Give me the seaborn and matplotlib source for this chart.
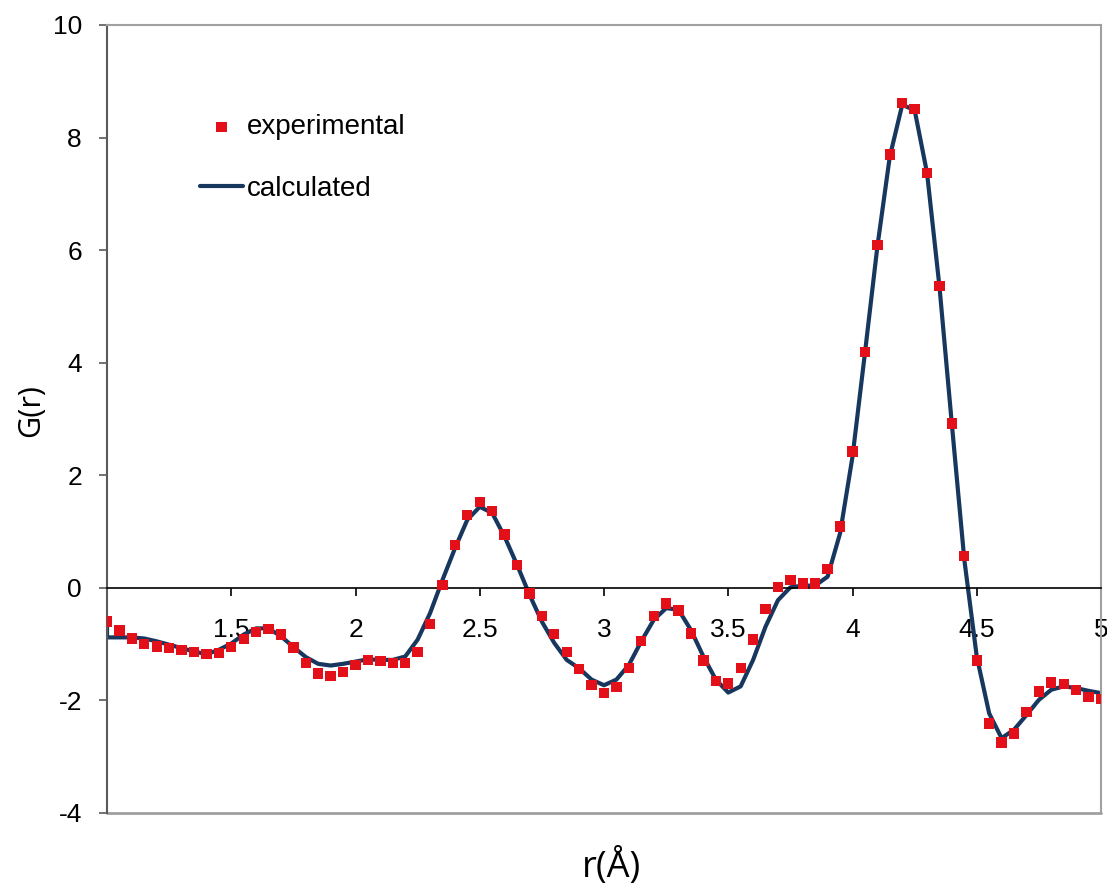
import numpy as np
import pandas as pd
import matplotlib
matplotlib.use('Agg')
import matplotlib.pyplot as plt
import seaborn as sns

sns.set_style('white')
plt.rcParams['font.family'] = ['Liberation Sans', 'DejaVu Sans']
plt.rcParams['axes.unicode_minus'] = False
plt.rcParams['text.color'] = 'black'
plt.rcParams['axes.labelcolor'] = 'black'
plt.rcParams['xtick.color'] = 'black'
plt.rcParams['ytick.color'] = 'black'

# experimentelle Daten (r in Angstrom, Schritt 0.05)
r_exp = np.round(np.arange(1.0, 5.0001, 0.05), 2)
g_exp = [-0.60, -0.76, -0.90, -1.00, -1.04, -1.07, -1.10, -1.14, -1.18, -1.16,
         -1.05, -0.91, -0.78, -0.73, -0.83, -1.06, -1.33, -1.52, -1.56, -1.49,
         -1.37, -1.28, -1.30, -1.34, -1.34, -1.14, -0.64, 0.05, 0.76, 1.30,
         1.53, 1.37, 0.95, 0.40, -0.10, -0.50, -0.82, -1.14, -1.44, -1.72,
         -1.87, -1.76, -1.43, -0.94, -0.50, -0.28, -0.40, -0.81, -1.29, -1.65,
         -1.70, -1.42, -0.92, -0.37, 0.01, 0.14, 0.08, 0.08, 0.33, 1.09,
         2.42, 4.19, 6.09, 7.70, 8.61, 8.51, 7.37, 5.36, 2.92, 0.56,
         -1.29, -2.41, -2.75, -2.59, -2.21, -1.84, -1.68, -1.71, -1.82, -1.94,
         -1.98]

# berechnete Kurve (erster Punkt doppelt bei r=1)
r_calc = [1.0] + list(r_exp)
g_calc = [-0.60, -0.88, -0.88, -0.88, -0.90, -0.95, -1.01, -1.07, -1.13, -1.18, -1.10,
          -0.99, -0.83, -0.72, -0.72, -0.86, -1.05, -1.23, -1.35, -1.38, -1.35,
          -1.31, -1.27, -1.28, -1.28, -1.22, -0.92, -0.45, 0.14, 0.70, 1.21,
          1.44, 1.33, 0.91, 0.41, -0.12, -0.60, -0.98, -1.28, -1.43, -1.63,
          -1.73, -1.63, -1.37, -0.95, -0.57, -0.36, -0.39, -0.75, -1.22, -1.63,
          -1.86, -1.75, -1.28, -0.69, -0.22, 0.01, 0.04, 0.04, 0.20, 0.97,
          2.33, 4.17, 6.06, 7.66, 8.58, 8.49, 7.37, 5.35, 2.90, 0.50,
          -1.22, -2.23, -2.67, -2.52, -2.26, -1.99, -1.81, -1.75, -1.78, -1.83,
          -1.87]

x_ticks = [1.5, 2, 2.5, 3, 3.5, 4, 4.5, 5]
y_ticks = [-4, -2, 0, 2, 4, 6, 8, 10]

df_exp = pd.DataFrame({'r': r_exp, 'G': g_exp})
df_calc = pd.DataFrame({'r': r_calc, 'G': g_calc})

fig = plt.figure(figsize=(11.07, 8.91), dpi=100)
ax = fig.add_axes([107 / 1107, 1 - 813 / 891, 994 / 1107, 788 / 891])

sns.lineplot(data=df_calc, x='r', y='G', estimator=None, sort=False, color='#17375E',
             linewidth=3.0, label='calculated', ax=ax, zorder=2)
sns.scatterplot(data=df_exp, x='r', y='G', marker='s', s=55, color='#E3101A',
                edgecolor='none', label='experimental', ax=ax, zorder=3)

ax.set_xlim(1, 5)
ax.set_ylim(-4, 10)
ax.set_xticks(x_ticks)
ax.set_xticklabels(['%g' % t for t in x_ticks])
ax.set_yticks(y_ticks)

# x-Achse bei y=0 wie in Excel
ax.spines['bottom'].set_position(('data', 0))
ax.spines['bottom'].set_color('black')
ax.spines['bottom'].set_linewidth(1.2)
ax.axhline(-4, color='#A0A0A0', linewidth=2, clip_on=False, zorder=1)
for s in ['top', 'right']:
    ax.spines[s].set_color('#A0A0A0')
    ax.spines[s].set_linewidth(1.5)
ax.spines['left'].set_color('#5A5A5A')
ax.spines['left'].set_linewidth(1.5)

ax.tick_params(axis='x', direction='out', length=6, width=1.2, color='black',
               labelsize=19, pad=16, bottom=True)
ax.tick_params(axis='y', direction='out', length=6, width=1.2, color='#5A5A5A',
               labelsize=19, pad=12, left=True)

ax.set_xlabel('r(Å)', fontsize=26, family=['Open Sans', 'DejaVu Sans'])
ax.xaxis.set_label_coords(0.508, -0.044)
ax.set_ylabel('G(r)', fontsize=22, family=['Open Sans', 'DejaVu Sans'])
ax.yaxis.set_label_coords(-0.061, 0.511)

handles, labels = ax.get_legend_handles_labels()
order = [labels.index('experimental'), labels.index('calculated')]
ax.legend([handles[i] for i in order], [labels[i] for i in order],
          loc='upper left', bbox_to_anchor=(200 / 1107, 1 - 114 / 891),
          bbox_transform=fig.transFigure, frameon=False, fontsize=20,
          handlelength=1.55, handletextpad=0.15, labelspacing=1.3, borderpad=0,
          borderaxespad=0, markerscale=1.0)

fig.savefig('out.png', dpi=100)
